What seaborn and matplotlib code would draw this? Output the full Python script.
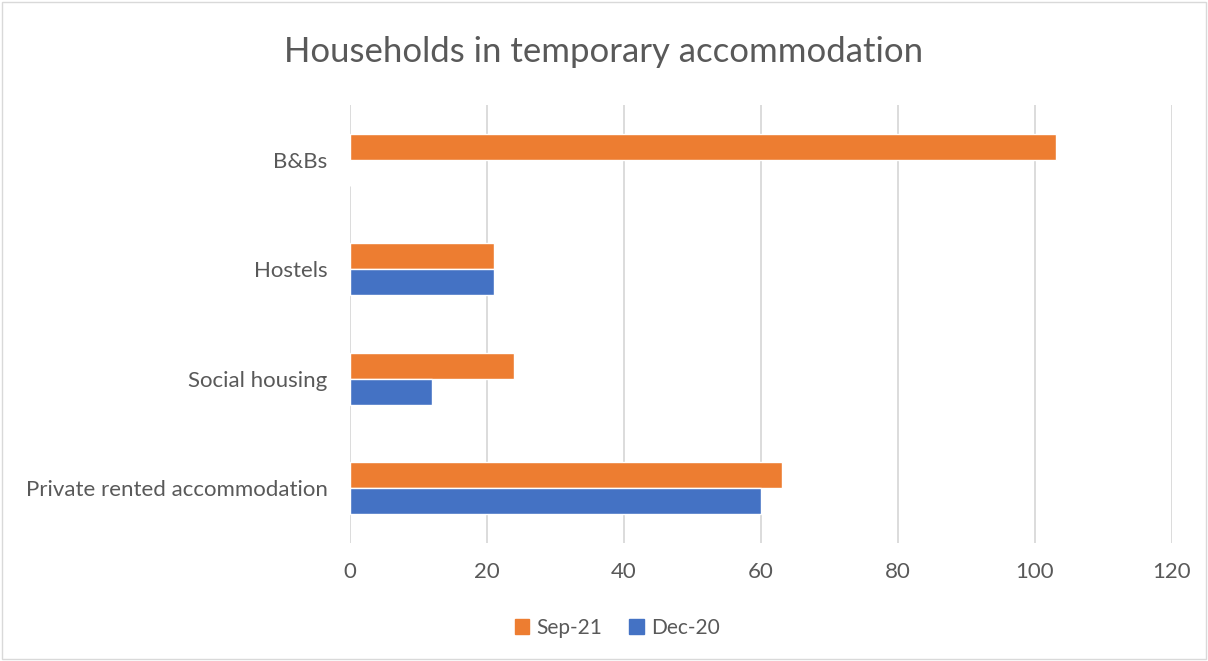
import pandas as pd
import matplotlib.pyplot as plt
import seaborn as sns
from matplotlib.patches import Rectangle

# data
categories = ["B&Bs", "Hostels", "Social housing", "Private rented accommodation"]
sep_21 = [103, 21, 24, 63]
dec_20 = [0, 21, 12, 60]
series = ["Sep-21", "Dec-20"]
colors = ["#ED7D31", "#4472C4"]

df = pd.DataFrame({
    "category": categories * 2,
    "value": sep_21 + dec_20,
    "period": [series[0]] * len(categories) + [series[1]] * len(categories),
})

sns.set_theme(style="white")
plt.rcParams["font.family"] = ["Lato", "DejaVu Sans"]
text_col = "#595959"

fig = plt.figure(figsize=(12.08, 6.61), dpi=100)
ax = fig.add_axes([0.2897, 0.1785, 0.6805, 0.6625])

sns.barplot(data=df, x="value", y="category", hue="period", order=categories,
            hue_order=series, palette=colors, orient="h", width=0.475,
            saturation=1, ax=ax, legend=False)

ax.set_xlim(0, 120)
ax.set_xticks(range(0, 121, 20))
ax.xaxis.grid(True, color="#D9D9D9", linewidth=1.3)
ax.set_axisbelow(True)
for s in ax.spines.values():
    s.set_visible(False)
ax.set_xlabel("")
ax.set_ylabel("")
ax.tick_params(axis="x", length=0, pad=14, labelsize=16, labelcolor=text_col)
ax.tick_params(axis="y", length=0, pad=16, labelsize=16, labelcolor=text_col)

fig.text(0.5, 0.921, "Households in temporary accommodation", ha="center",
         va="center", fontsize=25, color=text_col)

handles = [Rectangle((0, 0), 1, 1, color=c) for c in colors]
fig.legend(handles, series, loc="center", bbox_to_anchor=(0.511, 0.05), ncol=2,
           frameon=False, fontsize=15, labelcolor=text_col, handlelength=0.7,
           handleheight=0.7, handletextpad=0.35, columnspacing=1.3)

# thin frame around the whole chart
fig.patches.append(Rectangle((0.002, 0.003), 0.996, 0.994, transform=fig.transFigure,
                             fill=False, edgecolor="#D9D9D9", linewidth=1))

fig.savefig("out.png", dpi=100, facecolor="white")
